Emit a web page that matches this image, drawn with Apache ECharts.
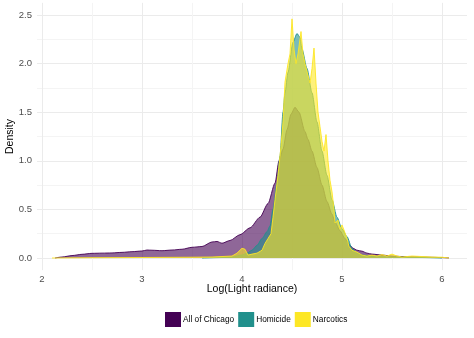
<!DOCTYPE html>
<html>
<head>
<meta charset="utf-8">
<script src="https://cdn.jsdelivr.net/npm/echarts@6/dist/echarts.min.js"></script>
<style>
html,body{margin:0;padding:0;background:#fff;}
#chart{width:474px;height:338px;}
</style>
</head>
<body>
<div id="chart"></div>
<script>
// Density curves: [log light radiance, density]
const chicagoX = [2.13,2.2,2.3,2.4,2.5,2.6,2.7,2.8,2.9,3.0,3.05,3.1,3.2,3.3,3.4,3.5,3.6,3.7,3.75,3.8,3.88,3.98,4.08,4.18,4.26,4.33,4.37,4.41,4.45,4.49,4.53,4.57,4.63,4.66,4.7,4.75,4.8,4.85,4.9,4.93,4.98,5.03,5.08,5.11,5.15,5.2,5.25,5.3,5.4,5.5,5.6,5.7,5.8,5.9,6.0,6.07];
const chicagoY = [0,0.01,0.025,0.038,0.048,0.05,0.052,0.058,0.065,0.072,0.082,0.08,0.075,0.082,0.09,0.11,0.118,0.165,0.17,0.152,0.18,0.24,0.31,0.42,0.56,0.77,1.0,1.12,1.32,1.48,1.55,1.5,1.3,1.22,1.1,0.93,0.75,0.58,0.45,0.37,0.28,0.2,0.13,0.1,0.08,0.07,0.05,0.04,0.03,0.02,0.015,0.012,0.01,0.007,0.004,0];

const homicideX = [3.6,3.8,3.9,4.0,4.05,4.1,4.15,4.2,4.25,4.28,4.31,4.35,4.38,4.41,4.43,4.46,4.51,4.55,4.58,4.6,4.65,4.7,4.75,4.8,4.85,4.9,4.95,5.0,5.05,5.1,5.15,5.2,5.3,5.5,5.8,6.0];
const homicideY = [0,0.005,0.01,0.03,0.05,0.08,0.13,0.2,0.27,0.33,0.5,0.77,1.05,1.5,1.7,1.91,2.22,2.31,2.27,2.15,1.95,1.7,1.4,1.1,0.85,0.6,0.42,0.3,0.22,0.1,0.05,0.03,0.015,0.01,0.005,0];

const narcoticsX = [2.1,2.5,3.0,3.5,3.7,3.8,3.9,3.95,4.0,4.01,4.03,4.06,4.1,4.15,4.2,4.23,4.26,4.29,4.31,4.33,4.36,4.39,4.41,4.43,4.46,4.48,4.5,4.52,4.54,4.56,4.59,4.61,4.63,4.65,4.68,4.7,4.72,4.74,4.76,4.78,4.8,4.82,4.84,4.86,4.88,4.9,4.92,4.93,4.96,4.98,5.0,5.03,5.05,5.07,5.1,5.15,5.2,5.25,5.3,5.35,5.4,5.45,5.5,5.55,5.6,5.7,5.8,5.9,6.0,6.07];
const narcoticsY = [0,0.003,0.005,0.008,0.01,0.015,0.02,0.05,0.1,0.12,0.09,0.03,0.04,0.05,0.08,0.15,0.2,0.25,0.42,0.6,0.85,1.15,1.4,1.81,2.0,2.1,2.46,2.15,2.0,2.1,2.33,2.1,2.0,1.98,1.8,1.95,2.16,1.8,1.5,1.35,1.2,1.1,1.27,1.0,0.8,0.68,0.5,0.36,0.39,0.3,0.34,0.26,0.2,0.12,0.08,0.06,0.03,0.02,0.03,0.02,0.035,0.02,0.04,0.02,0.01,0.02,0.015,0.01,0.008,0];

const seriesNames = ['All of Chicago','Homicide','Narcotics'];
const seriesColors = ['#440154','#21908C','#FDE725'];
const xTickLabels = ['2','3','4','5','6'];
const yTickLabels = ['0.0','0.5','1.0','1.5','2.0','2.5'];

function pairs(xs, ys){ return xs.map((x,i)=>[x, ys[i]]); }
const allData = [pairs(chicagoX,chicagoY), pairs(homicideX,homicideY), pairs(narcoticsX,narcoticsY)];
const smoothing = [0.25, 0.25, 0];

const FONT = '"Liberation Sans", Arial, sans-serif';
const chart = echarts.init(document.getElementById('chart'), null, {renderer:'canvas'});

function near(v, step){ return Math.abs(v/step - Math.round(v/step)) < 1e-6; }
const T = 'rgba(0,0,0,0)';
const xGridColors = [];
for (let i = 0; i < 20; i++) xGridColors.push(i === 1 ? '#ebebeb' : (i === 11 ? '#f4f4f4' : T));

const option = {
  animation: false,
  backgroundColor: '#ffffff',
  grid: { left: 37, right: 7, top: 2.85, bottom: 67.85, containLabel: false, outerBoundsMode: 'none' },
  xAxis: {
    type: 'value', min: 1.95, max: 6.25, interval: 0.05,
    name: 'Log(Light radiance)', nameLocation: 'middle', nameGap: 13, nameMoveOverlap: false,
    nameTextStyle: { color: '#000', fontSize: 10.5, fontFamily: FONT },
    axisLine: { show: false }, axisTick: { show: false },
    axisLabel: {
      color: '#4d4d4d', fontSize: 9.5, fontFamily: FONT, margin: 4,
      formatter: v => (near(v,1) && xTickLabels.indexOf(String(Math.round(v))) >= 0) ? String(Math.round(v)) : ''
    },
    splitLine: { show: true, lineStyle: { width: 1, color: xGridColors } }
  },
  yAxis: {
    type: 'value', min: -0.125, max: 2.625, interval: 0.125,
    name: 'Density', nameLocation: 'middle', nameGap: 21, nameRotate: 90, nameMoveOverlap: false,
    nameTextStyle: { color: '#000', fontSize: 10.5, fontFamily: FONT },
    axisLine: { show: false }, axisTick: { show: false },
    axisLabel: {
      color: '#4d4d4d', fontSize: 9.5, fontFamily: FONT, margin: 5,
      formatter: v => { if (v < -1e-9 || !near(v,0.5)) return ''; const s = v.toFixed(1); return yTickLabels.indexOf(s) >= 0 ? s : ''; }
    },
    splitLine: { show: true, lineStyle: { width: 1, color: [T,'#ebebeb',T,'#f4f4f4'] } }
  },
  legend: {
    data: seriesNames.map(n => ({ name: n, icon: 'rect' })),
    left: 160, top: 307, itemWidth: 16, itemHeight: 15, itemGap: 4,
    textStyle: { color: '#000', fontSize: 8.3, fontFamily: FONT, padding: [0,0,0,-3] },
    selectedMode: false
  },
  series: seriesNames.map((name, i) => ({
    name: name, type: 'line', data: allData[i],
    showSymbol: false, symbol: 'none',
    smooth: smoothing[i], smoothMonotone: 'x',
    itemStyle: { color: seriesColors[i] },
    lineStyle: { color: seriesColors[i], width: 0.9 },
    areaStyle: { color: seriesColors[i], opacity: 0.6, origin: 0 },
    z: 2 + i
  }))
};
chart.setOption(option);
</script>
</body>
</html>
